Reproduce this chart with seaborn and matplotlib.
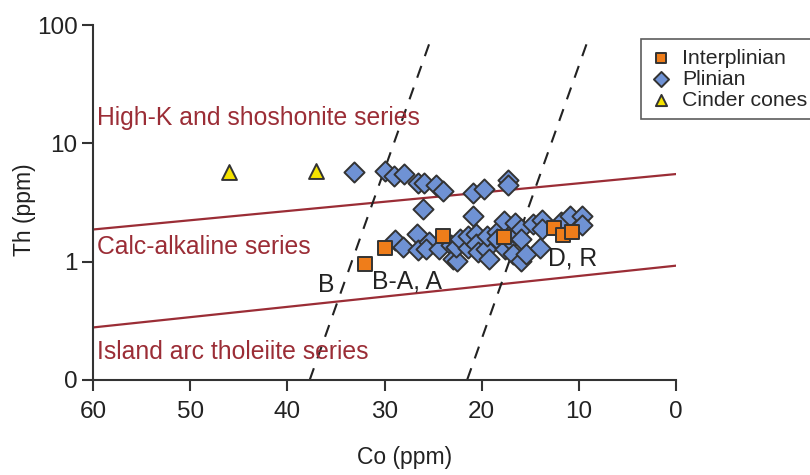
import numpy as np
import pandas as pd
import matplotlib
matplotlib.use("Agg")
import matplotlib.pyplot as plt
import seaborn as sns

# data (Co vs Th, ppm)
cinder_co = [46.0, 37.0]
cinder_th = [5.7, 5.83]

inter_co = [31.96, 29.9, 24.0, 17.7, 12.6, 11.6, 10.7]
inter_th = [0.955, 1.31, 1.65, 1.61, 1.94, 1.69, 1.77]

plin_co = [33.1, 30.0, 29.0, 28.0, 26.6, 25.9, 24.7, 24.0, 20.9, 19.8, 17.3, 17.3,
           26.0, 20.9,
           28.9, 28.1, 26.7, 26.6, 25.4, 25.7, 24.4, 23.2, 22.9, 22.5, 22.6, 22.2,
           21.4, 21.4, 20.6, 20.6, 20.4, 19.6, 19.2, 19.4, 18.4, 18.4, 17.7, 17.6,
           17.1, 16.8, 16.8, 16.6, 16.0, 16.0, 16.0, 15.4, 14.7, 14.0, 13.8, 13.8,
           11.8, 10.9, 9.7, 9.7]
plin_th = [5.7, 5.83, 5.29, 5.53, 4.64, 4.61, 4.41, 3.95, 3.77, 4.13, 4.86, 4.41,
           2.76, 2.42,
           1.53, 1.34, 1.72, 1.26, 1.48, 1.28, 1.28, 1.38, 1.05, 1.01, 1.32, 1.56,
           1.30, 1.66, 1.72, 1.41, 1.20, 1.28, 1.05, 1.66, 1.77, 1.56, 2.20, 1.28,
           1.51, 1.77, 1.16, 2.13, 1.89, 1.56, 1.02, 1.16, 2.09, 1.31, 2.25, 1.89,
           2.18, 2.42, 2.45, 2.05]

# field boundaries
upper_co = [60, 0]
upper_th = [1.87, 5.5]
lower_co = [60, 0]
lower_th = [0.278, 0.925]
dash_b_co = [37.7, 25.2]
dash_d_co = [21.5, 9.0]
dash_th = [0.1, 77]

x_ticks = [60, 50, 40, 30, 20, 10, 0]
y_ticks = [0.1, 1, 10, 100]
y_labels = ["0", "1", "10", "100"]

sns.set_style("ticks")
plt.rcParams['font.family'] = ['Liberation Sans', 'DejaVu Sans']

fig = plt.figure(figsize=(8.1, 4.75), dpi=100)
ax = fig.add_axes([93 / 810, 1 - 380 / 475, 583 / 810, 355 / 475])

red = '#9b2d36'
edge = '#333333'
ax.plot(upper_co, upper_th, color=red, lw=1.6, zorder=1)
ax.plot(lower_co, lower_th, color=red, lw=1.6, zorder=1)
ax.plot(dash_b_co, dash_th, color='#222222', lw=1.5, ls=(0, (6, 5)), zorder=1)
ax.plot(dash_d_co, dash_th, color='#222222', lw=1.5, ls=(0, (6, 5)), zorder=1)

sns.scatterplot(x=plin_co, y=plin_th, marker='D', s=105, color='#6f92d4',
                edgecolor=edge, linewidth=1.4, ax=ax, label='Plinian', zorder=3)
sns.scatterplot(x=inter_co, y=inter_th, marker='s', s=90, color='#ef7d1a',
                edgecolor=edge, linewidth=1.4, ax=ax, label='Interplinian', zorder=4)
sns.scatterplot(x=cinder_co, y=cinder_th, marker='^', s=115, color='#f5e300',
                edgecolor=edge, linewidth=1.4, ax=ax, label='Cinder cones', zorder=3)

ax.set_yscale('log')
ax.set_xlim(60, 0)
ax.set_ylim(0.1, 100)
ax.set_xticks(x_ticks)
ax.set_xticklabels([str(t) for t in x_ticks])
ax.set_yticks(y_ticks)
ax.set_yticklabels(y_labels)
ax.minorticks_off()
ax.tick_params(axis='both', labelsize=17.5, color=edge, labelcolor='#222222',
               length=8, width=1.5)
ax.tick_params(axis='x', pad=7)
ax.tick_params(axis='y', pad=3)
for side in ['top', 'right']:
    ax.spines[side].set_visible(False)
for side in ['left', 'bottom']:
    ax.spines[side].set_color(edge)
    ax.spines[side].set_linewidth(1.5)
ax.set_xlabel('Co (ppm)', fontsize=16.5, color='#222222')
ax.set_ylabel('Th (ppm)', fontsize=16.5, color='#222222')
ax.xaxis.set_label_coords(0.535, -0.185)
ax.yaxis.set_label_coords(-0.098, 0.48)

ax.text(59.6, 16.4, 'High-K and shoshonite series', color=red, fontsize=17.8, va='center')
ax.text(59.6, 1.34, 'Calc-alkaline series', color=red, fontsize=17.8, va='center')
ax.text(59.6, 0.171, 'Island arc tholeiite series', color=red, fontsize=17.8, va='center')
ax.text(36.0, 0.64, 'B', color='#222222', fontsize=17.8, ha='center', va='center')
ax.text(31.3, 0.68, 'B-A, A', color='#222222', fontsize=17.8, va='center')
ax.text(13.2, 1.06, 'D, R', color='#222222', fontsize=17.8, va='center')

handles, labels = ax.get_legend_handles_labels()
order = [labels.index(n) for n in ['Interplinian', 'Plinian', 'Cinder cones']]
leg = ax.legend([handles[i] for i in order], [labels[i] for i in order],
                loc='upper left', bbox_to_anchor=(548 / 583, 341 / 355), fontsize=15.3,
                frameon=True, fancybox=False, edgecolor=edge, handletextpad=0.5,
                borderpad=0.45, labelspacing=0.1, handlelength=1.0, markerscale=0.75,
                borderaxespad=0)
leg.get_frame().set_linewidth(1.2)

fig.savefig('out.png', dpi=100)
